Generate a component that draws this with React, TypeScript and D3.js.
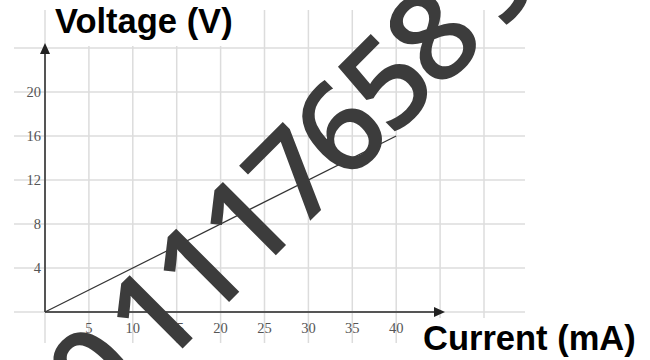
import React from "react";
import * as d3 from "d3";

const xTicks = [5, 10, 15, 20, 25, 30, 35, 40];
const yTicks = [4, 8, 12, 16, 20];
const xGrid = [0, 5, 10, 15, 20, 25, 30, 35, 40, 45, 50];
const yGrid = [0, 4, 8, 12, 16, 20, 24];
const current = [0, 40];
const voltage = [0, 16];
const yTitle = "Voltage (V)";
const xTitle = "Current (mA)";
const watermarkParts = ["0", "1117658", "9"];
const watermarkGaps = [0, 16, 18];

export default function App() {
  const W = 650, H = 360;
  const x = d3.scaleLinear().domain([0, 50]).range([45, 484]);
  const y = d3.scaleLinear().domain([0, 24]).range([312, 48]);
  const pts = current.map((c, i) => [c, voltage[i]] as [number, number]);
  const line = d3.line<[number, number]>().x(d => x(d[0])).y(d => y(d[1]));
  const axisCol = "#555";
  const gridCol = "#dcdcdc";
  const ox = x(0), oy = y(0);
  const xEnd = 445, yEnd = 43;
  return (
    <svg width={W} height={H} style={{ position: "fixed", left: 0, top: 0, background: "#fff" }}>
      <rect width={W} height={H} fill="#fff" />
      {xGrid.map(v => (
        <line key={"gx" + v} x1={x(v)} x2={x(v)} y1={10} y2={343} stroke={gridCol} strokeWidth={1.5} />
      ))}
      {yGrid.map(v => (
        <line key={"gy" + v} x1={14} x2={525} y1={y(v)} y2={y(v)} stroke={gridCol} strokeWidth={1.5} />
      ))}
      <rect x={50} y={0} width={192} height={46} fill="#fff" />
      <rect x={415} y={318} width={235} height={42} fill="#fff" />
      <line x1={ox} x2={xEnd - 8} y1={oy} y2={oy} stroke={axisCol} strokeWidth={2} />
      <path d={`M${xEnd},${oy} L${xEnd - 11},${oy - 5} L${xEnd - 11},${oy + 5} Z`} fill="#222" />
      <line x1={ox} x2={ox} y1={oy} y2={yEnd + 8} stroke={axisCol} strokeWidth={2} />
      <path d={`M${ox},${yEnd} L${ox - 5},${yEnd + 11} L${ox + 5},${yEnd + 11} Z`} fill="#222" />
      {yTicks.map(v => (
        <text key={"ty" + v} x={41} y={y(v) + 5} textAnchor="end" fontFamily="'Liberation Serif', serif" fontSize={14.5} fill="#555">{v}</text>
      ))}
      {xTicks.map(v => (
        <text key={"tx" + v} x={x(v)} y={333} textAnchor="middle" fontFamily="'Liberation Serif', serif" fontSize={14.5} fill="#555">{v}</text>
      ))}
      <path d={line(pts) || ""} fill="none" stroke="#333" strokeWidth={1.2} />
      <text x={55} y={33} fontFamily="'Liberation Sans', Arial, sans-serif" fontWeight="bold" fontSize={34.5} fill="#000">{yTitle}</text>
      <text x={423} y={350} fontFamily="'Liberation Sans', Arial, sans-serif" fontWeight="bold" fontSize={34.5} fill="#000">{xTitle}</text>
      <text transform="translate(101,430) rotate(-45)" fontFamily="'Open Sans', sans-serif" fontWeight={600} fontSize={125} letterSpacing={-5.5} fill="#3c3c3c">
        {watermarkParts.map((p, i) => (
          <tspan key={i} dx={watermarkGaps[i]}>{p}</tspan>
        ))}
      </text>
    </svg>
  );
}
